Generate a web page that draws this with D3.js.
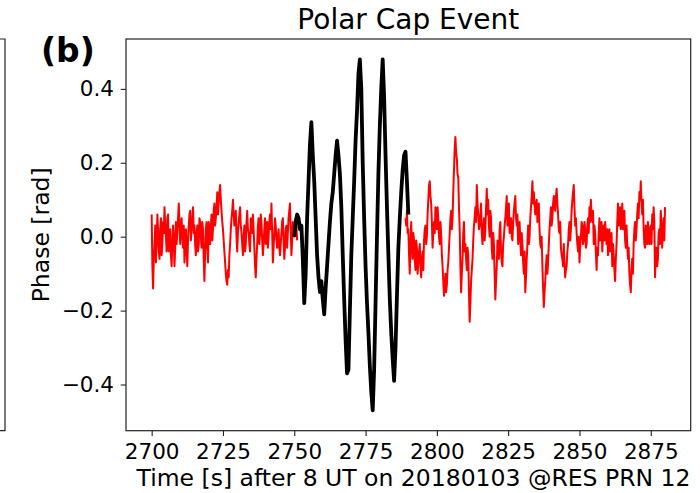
<!DOCTYPE html>
<html>
<head>
<meta charset="utf-8">
<script src="https://cdn.jsdelivr.net/npm/d3@7"></script>
<style>
  html, body { margin: 0; padding: 0; background: #fff; }
  svg { display: block; font-family: "DejaVu Sans", sans-serif; }
</style>
</head>
<body>
<svg id="chart" width="700" height="493"></svg>
<script>
// Phase record (rad). Each quiet segment is stored as samples on whole/half seconds
// plus the samples that fall a quarter second after each of them.
const halfStep = 0.5;

const preStart = 2700;
const preValues = [
  0.06,-0.14,-0.02,-0.07,0.06,-0.04,0.02,-0.05,0.04,0.08,
  0.00,0.05,-0.04,0.02,-0.08,0.03,-0.08,0.04,0.01,0.09,
  -0.02,0.05,-0.03,-0.07,0.02,-0.08,0.03,0.07,0.02,0.08,
  0.03,-0.05,0.03,-0.02,0.04,-0.03,0.02,-0.12,0.02,-0.03,
  0.04,-0.02,0.06,0.02,0.09,0.05,0.12,0.09,0.14,0.07,
  0.02,-0.04,-0.10,-0.13,-0.11,-0.02,0.05,0.10,0.03,0.07,
  -0.04,0.04,0.08,0.01,-0.05,0.03,-0.02,0.07,0.01,-0.04,
  0.03,0.06,-0.03,-0.11,-0.02,0.05,0.01,0.04,-0.05,0.02,
  -0.02,0.04,0.00,0.06,0.09,-0.07,0.01,0.03,-0.03,0.02,
  -0.05,0.01,0.05,-0.06,0.02,-0.03,0.05,0.09,-0.05,0.04,
  0.00,0.05,-0.01
];
const preQuarter = [
  -0.08,-0.06,0.03,-0.01,0.02,-0.06,0.05,-0.02,0.01,0.03,
  -0.04,0.06,-0.01,-0.05,-0.02,0.00,-0.03,-0.02,0.05,0.04,
  0.02,0.00,0.03,-0.02,-0.04,-0.01,0.06,-0.01,0.05,0.01,
  -0.02,0.01,-0.04,0.05,0.00,0.04,-0.06,-0.04,0.04,-0.07,
  0.01,0.03,-0.01,0.07,0.03,0.08,0.06,0.12,0.10,0.04,
  -0.01,-0.07,-0.12,-0.09,-0.05,0.02,0.07,0.06,0.04,0.00,
  0.01,0.06,0.03,-0.02,0.00,-0.04,0.04,0.02,-0.02,0.05,
  0.01,0.02,-0.08,-0.06,0.03,-0.02,0.06,-0.01,-0.02,0.05,
  0.01,-0.03,0.04,0.02,0.01,-0.03,0.05,-0.01,0.00,-0.03,
  -0.02,0.04,-0.01,-0.03,0.03,0.01,0.07,0.02,-0.01,0.02,
  0.02,0.03
];

const eventStart = 2750;
const eventValues = [
  0.00,0.04,0.06,0.05,0.02,0.03,-0.06,-0.18,-0.10,0.05,
  0.15,0.25,0.31,0.22,0.15,0.05,-0.05,-0.11,-0.15,-0.12,
  -0.17,-0.21,-0.14,-0.08,-0.02,0.04,0.09,0.12,0.17,0.22,
  0.26,0.22,0.17,0.08,-0.05,-0.17,-0.28,-0.37,-0.36,-0.20,
  -0.05,0.05,0.15,0.26,0.34,0.44,0.48,0.40,0.20,0.05,
  -0.08,-0.18,-0.26,-0.35,-0.42,-0.47,-0.36,-0.18,0.00,0.17,
  0.30,0.40,0.48,0.38,0.22,0.08,-0.05,-0.17,-0.26,-0.33,
  -0.39,-0.30,-0.16,-0.03,0.05,0.12,0.18,0.22,0.23,0.15,
  0.06
];

const postStart = 2789;
const postValues = [
  0.05,0.07,0.02,-0.10,0.04,-0.06,-0.01,-0.09,-0.03,-0.07,
  -0.02,-0.11,-0.04,-0.01,0.03,0.00,0.10,0.15,0.09,-0.03,
  0.04,0.08,0.02,0.05,-0.02,0.01,-0.08,-0.16,-0.10,-0.13,
  -0.07,0.01,0.07,0.05,0.18,0.27,0.21,0.16,0.02,-0.15,
  -0.06,0.04,-0.02,-0.09,-0.05,-0.23,-0.12,-0.06,0.03,0.08,
  0.14,0.06,0.03,0.09,-0.02,0.05,0.02,0.13,0.10,0.00,
  0.05,-0.06,-0.02,-0.17,-0.08,-0.03,0.02,-0.04,-0.08,0.00,
  0.05,0.11,0.06,0.01,0.05,-0.01,0.07,0.11,0.03,-0.02,
  0.04,-0.05,-0.02,-0.10,-0.15,-0.06,0.03,0.00,0.08,0.15,
  0.12,0.06,0.10,0.07,0.02,-0.03,-0.08,-0.19,-0.12,-0.05,
  -0.07,0.02,0.08,0.05,0.11,0.07,0.13,0.06,0.01,-0.03,
  -0.06,-0.02,-0.11,-0.08,-0.02,0.04,0.02,0.10,0.14,0.03,
  0.01,-0.04,-0.07,0.00,0.03,-0.01,0.02,-0.02,0.05,0.08,
  0.10,0.04,-0.02,0.01,-0.09,-0.05,0.05,0.01,-0.04,0.03,
  0.04,-0.02,-0.05,0.02,-0.03,-0.08,-0.05,-0.12,-0.02,0.09,
  0.06,0.02,0.09,0.04,-0.01,0.03,-0.06,-0.10,-0.15,-0.06,
  -0.02,0.04,0.02,0.09,0.12,0.15,0.06,0.02,-0.03,0.01,
  0.04,-0.02,0.03,0.06,0.08,-0.11,-0.03,-0.06,0.02,0.07,
  -0.03,0.05,0.08
];
const postQuarter = [
  0.03,0.01,-0.05,-0.02,-0.03,0.01,-0.06,-0.01,-0.10,-0.04,
  -0.08,-0.06,-0.09,0.02,-0.02,0.06,0.14,0.11,0.04,0.01,
  0.01,0.05,0.08,0.00,0.04,-0.05,-0.12,-0.13,-0.15,-0.09,
  -0.03,0.05,0.02,0.12,0.24,0.23,0.17,0.08,-0.08,-0.10,
  0.01,-0.04,-0.06,-0.03,-0.15,-0.18,-0.09,-0.01,0.05,0.04,
  0.09,0.02,0.06,0.01,0.02,-0.01,0.08,0.06,0.03,0.07,
  -0.03,0.01,-0.10,-0.12,-0.01,-0.06,0.04,-0.07,-0.02,0.03,
  0.08,0.03,0.09,0.04,0.00,0.04,0.09,0.05,0.06,0.01,
  -0.01,0.01,-0.07,-0.04,-0.11,-0.02,-0.02,0.05,0.11,0.09,
  0.09,0.08,0.04,0.09,-0.02,0.00,-0.14,-0.15,-0.08,-0.10,
  -0.02,0.05,0.03,0.09,0.08,0.11,0.09,0.02,0.04,-0.05,
  -0.08,-0.07,-0.09,-0.04,0.02,-0.01,0.07,0.12,0.08,0.05,
  -0.02,0.00,-0.03,0.04,-0.02,0.04,-0.03,0.03,0.01,0.04,
  0.06,0.07,0.03,-0.04,-0.03,0.01,-0.01,0.04,0.00,-0.01,
  0.01,0.02,-0.01,-0.04,0.01,-0.02,-0.09,-0.06,0.04,0.03,
  0.08,0.05,0.02,0.07,-0.03,-0.02,-0.03,-0.13,-0.09,-0.10,
  0.02,-0.01,0.06,0.05,0.10,0.09,0.10,-0.02,0.03,-0.02,
  0.01,0.02,-0.02,0.02,0.04,-0.05,-0.08,0.01,-0.02,0.03,
  0.01,-0.01
];

const xTicks = [2700, 2725, 2750, 2775, 2800, 2825, 2850, 2875];
const yTicks = [-0.4, -0.2, 0.0, 0.2, 0.4];

const titleText = "Polar Cap Event";
const panelLabel = "(b)";
const xLabel = "Time [s] after 8 UT on 20180103 @RES PRN 12";
const yLabel = "Phase [rad]";

// ---- layout ----
const svg = d3.select("#chart");
const plot = { left: 126, right: 690.7, top: 39, bottom: 430.7 };
const tickFont = 21.5;
const labelFont = 23.5;

const x = d3.scaleLinear().domain([2691, 2889]).range([plot.left, plot.right]);
const y = d3.scaleLinear().domain([-0.525, 0.535]).range([plot.bottom, plot.top]);

// edge of the neighbouring panel on the left
svg.append("path")
  .attr("d", `M0,${plot.top}H5V${plot.bottom}H0`)
  .attr("fill", "none").attr("stroke", "#222").attr("stroke-width", 1.2);

// clip for traces
svg.append("defs").append("clipPath").attr("id", "plotClip")
  .append("rect")
  .attr("x", plot.left).attr("y", plot.top)
  .attr("width", plot.right - plot.left).attr("height", plot.bottom - plot.top);

// build [time, phase] pairs; quarter-second samples are slotted in after their half-second sample
function toPoints(start, vals, quarter) {
  const pts = [];
  vals.forEach((v, i) => {
    const t = start + i * halfStep;
    pts.push([t, v]);
    if (quarter && i < quarter.length) pts.push([t + halfStep / 2, quarter[i]]);
  });
  return pts;
}
const line = d3.line().x(d => x(d[0])).y(d => y(d[1]));

const traces = svg.append("g").attr("clip-path", "url(#plotClip)");
traces.append("path").datum(toPoints(preStart, preValues, preQuarter))
  .attr("d", line).attr("fill", "none").attr("stroke", "#ff0000")
  .attr("stroke-width", 2).attr("stroke-linejoin", "round");
traces.append("path").datum(toPoints(postStart, postValues, postQuarter))
  .attr("d", line).attr("fill", "none").attr("stroke", "#ff0000")
  .attr("stroke-width", 2).attr("stroke-linejoin", "round");
traces.append("path").datum(toPoints(eventStart, eventValues, null))
  .attr("d", line).attr("fill", "none").attr("stroke", "#000000")
  .attr("stroke-width", 3.8).attr("stroke-linejoin", "round");

// axes
const xAxis = d3.axisBottom(x).tickValues(xTicks).tickFormat(d3.format("d"))
  .tickSize(5.3).tickPadding(7.5);
const yAxis = d3.axisLeft(y).tickValues(yTicks).tickFormat(d3.format(".1f"))
  .tickSize(5.3).tickPadding(6.7);

const gx = svg.append("g").attr("transform", `translate(0,${plot.bottom})`).call(xAxis);
const gy = svg.append("g").attr("transform", `translate(${plot.left},0)`).call(yAxis);
[gx, gy].forEach(g => {
  g.select(".domain").remove();
  g.selectAll(".tick line").attr("stroke", "#222").attr("stroke-width", 1.1);
  g.selectAll(".tick text").attr("fill", "#000")
    .style("font-family", "'DejaVu Sans', sans-serif").style("font-size", tickFont + "px");
});

// frame
svg.append("rect")
  .attr("x", plot.left).attr("y", plot.top)
  .attr("width", plot.right - plot.left).attr("height", plot.bottom - plot.top)
  .attr("fill", "none").attr("stroke", "#222").attr("stroke-width", 1.2);

// text
svg.append("text")
  .attr("x", (plot.left + plot.right) / 2).attr("y", 29)
  .attr("text-anchor", "middle").style("font-size", "28px").text(titleText);

svg.append("text")
  .attr("x", 41).attr("y", 62)
  .style("font-size", "33px").style("font-weight", "bold").text(panelLabel);

svg.append("text")
  .attr("x", 413.5).attr("y", 486)
  .attr("text-anchor", "middle").style("font-size", labelFont + "px").text(xLabel);

svg.append("text")
  .attr("transform", `translate(49,${(plot.top + plot.bottom) / 2}) rotate(-90)`)
  .attr("text-anchor", "middle").style("font-size", labelFont + "px").text(yLabel);
</script>
</body>
</html>
